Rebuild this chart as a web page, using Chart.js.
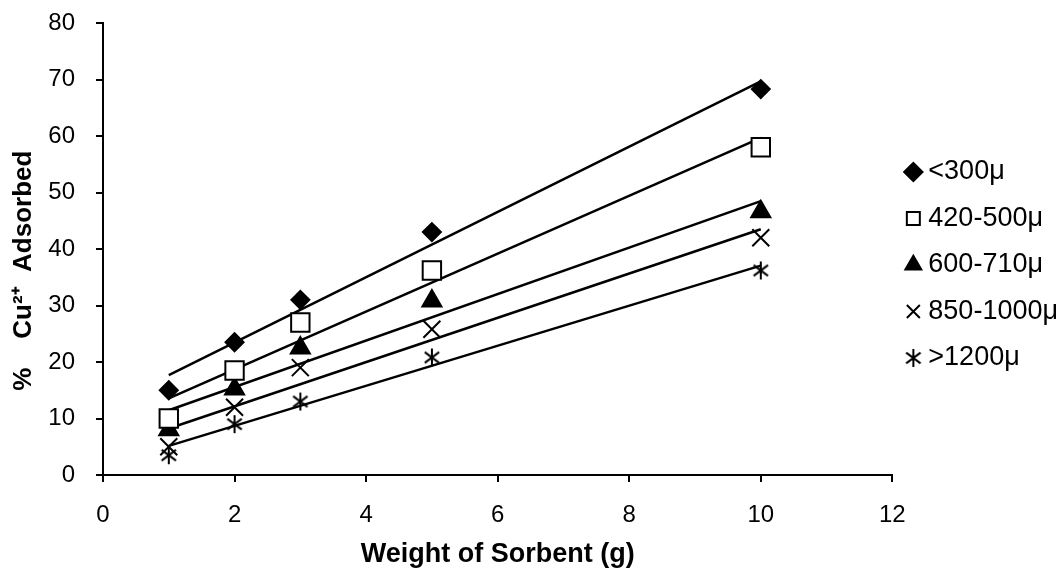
<!DOCTYPE html>
<html>
<head>
<meta charset="utf-8">
<script src="https://cdn.jsdelivr.net/npm/chart.js@4/dist/chart.umd.min.js"></script>
<style>
  body { margin: 0; background: #fff; }
</style>
</head>
<body>
<canvas id="chart" width="1061" height="572"></canvas>
<script>
// sorbent weights (g) on the x axis
const weights = [1, 2, 3, 5, 10];
const sizeLabels = ['<300μ', '420-500μ', '600-710μ', '850-1000μ', '>1200μ'];

// % Cu2+ adsorbed
const under300 = [15, 23.5, 31, 43, 68.3];
const size420to500 = [10, 18.5, 27, 36.2, 58];
const size600to710 = [8, 15.2, 22.5, 30.8, 46.6];
const size850to1000 = [5, 12, 19, 25.8, 42];
const over1200 = [3.5, 9, 13, 20.8, 36.2];

const xTicks = [0, 2, 4, 6, 8, 10, 12];
const yTicks = [0, 10, 20, 30, 40, 50, 60, 70, 80];

Chart.defaults.font.family = '"Liberation Sans", Arial, sans-serif';
Chart.defaults.color = '#000';

// asterisk marker: vertical bar plus an X
function asterisk(size) {
  const c = document.createElement('canvas');
  c.width = size; c.height = size;
  const g = c.getContext('2d');
  g.strokeStyle = '#000';
  g.lineWidth = 2;
  const m = size / 2, r = size / 2 - 1;
  g.beginPath();
  g.moveTo(m, m - r); g.lineTo(m, m + r);
  g.moveTo(m - r * 0.8, m - r * 0.6); g.lineTo(m + r * 0.8, m + r * 0.6);
  g.moveTo(m + r * 0.8, m - r * 0.6); g.lineTo(m - r * 0.8, m + r * 0.6);
  g.stroke();
  return c;
}

// Excel style linear trendline over the data range
function trendline(ys) {
  const n = weights.length;
  const mx = weights.reduce((a, b) => a + b, 0) / n;
  const my = ys.reduce((a, b) => a + b, 0) / n;
  let sxy = 0, sxx = 0;
  weights.forEach((x, i) => { sxy += (x - mx) * (ys[i] - my); sxx += (x - mx) * (x - mx); });
  const slope = sxy / sxx;
  const x0 = weights[0], x1 = weights[n - 1];
  return [{ x: x0, y: my + slope * (x0 - mx) }, { x: x1, y: my + slope * (x1 - mx) }];
}

const toPoints = ys => weights.map((x, i) => ({ x: x, y: ys[i] }));

const seriesValues = [under300, size420to500, size600to710, size850to1000, over1200];
const markers = [
  { pointStyle: 'rectRot', pointRadius: 9, backgroundColor: '#000', borderColor: '#000' },
  { pointStyle: 'rect', pointRadius: 13, backgroundColor: '#fff', borderColor: '#000' },
  { pointStyle: 'triangle', pointRadius: 11, backgroundColor: '#000', borderColor: '#000' },
  { pointStyle: 'crossRot', pointRadius: 12, backgroundColor: '#000', borderColor: '#000' },
  { pointStyle: asterisk(20), pointRadius: 10, backgroundColor: '#000', borderColor: '#000' }
];

const datasets = [];
seriesValues.forEach((ys, i) => {
  datasets.push(Object.assign({
    label: sizeLabels[i],
    data: toPoints(ys),
    showLine: false,
    borderWidth: 2,
    order: 1
  }, markers[i]));
});
seriesValues.forEach((ys, i) => {
  datasets.push({
    label: 'trend ' + sizeLabels[i],
    data: trendline(ys),
    showLine: true,
    borderColor: '#000',
    borderWidth: 2.5,
    pointRadius: 0,
    order: 2
  });
});

new Chart(document.getElementById('chart'), {
  type: 'scatter',
  data: { datasets: datasets },
  options: {
    responsive: false,
    animation: false,
    layout: { padding: { top: 23, right: -7, bottom: 1, left: 0 } },
    plugins: {
      tooltip: { enabled: false },
      legend: {
        position: 'right',
        align: 'start',
        title: { display: true, text: ' ', font: { size: 10 }, padding: { top: 104, bottom: 0 } },
        labels: {
          usePointStyle: true,
          boxWidth: 3,
          boxHeight: 13,
          padding: 19.5,
          font: { size: 27 },
          color: '#000',
          filter: item => item.datasetIndex < 5
        }
      }
    },
    scales: {
      x: {
        type: 'linear',
        min: 0,
        max: 12,
        afterBuildTicks: axis => { axis.ticks = xTicks.map(v => ({ value: v })); },
        afterFit: axis => { axis.height = 96; },
        ticks: { font: { size: 24 }, color: '#000', padding: 19 },
        grid: { drawOnChartArea: false, drawTicks: true, tickLength: 7, color: '#000', lineWidth: 2 },
        border: { color: '#000', width: 2 },
        title: { display: true, text: 'Weight of Sorbent (g)', font: { size: 27, weight: 'bold' }, color: '#000', padding: { top: 10, bottom: 0 } }
      },
      y: {
        min: 0,
        max: 80,
        afterBuildTicks: axis => { axis.ticks = yTicks.map(v => ({ value: v })); },
        afterFit: axis => { axis.width = 103; axis.paddingTop = 0; },
        ticks: { font: { size: 24 }, color: '#000', padding: 21 },
        grid: { drawOnChartArea: false, drawTicks: true, tickLength: 7, color: '#000', lineWidth: 2 },
        border: { color: '#000', width: 2 },
        title: { display: true, text: '%    Cu²⁺  Adsorbed      ', font: { size: 26, weight: 'bold' }, color: '#000', padding: { top: 8, bottom: 0 } }
      }
    }
  }
});
</script>
</body>
</html>
